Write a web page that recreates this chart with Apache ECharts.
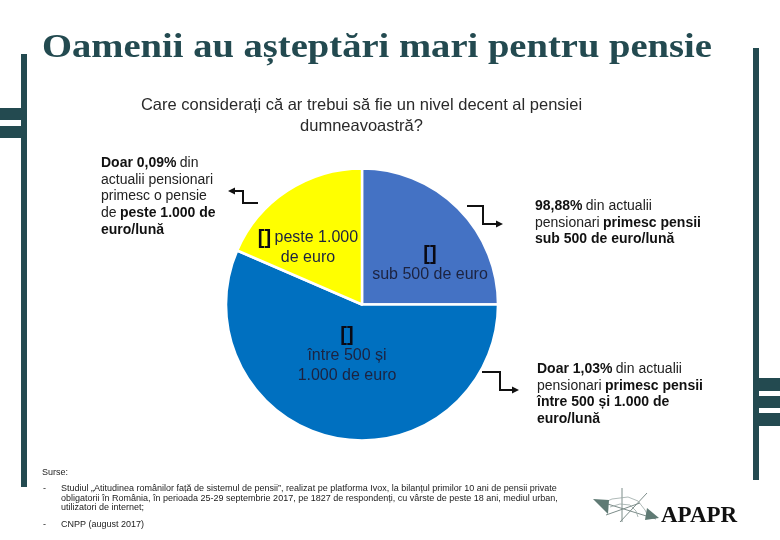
<!DOCTYPE html>
<html><head><meta charset="utf-8">
<style>html,body{margin:0;padding:0;background:#fff}#c{width:780px;height:540px}</style>
<script src="https://cdn.jsdelivr.net/npm/echarts@6/dist/echarts.min.js"></script>
</head><body><div id="c"></div>
<script>
const categories = ['sub 500 de euro', 'între 500 și\n1.000 de euro', 'peste 1.000\nde euro'];
const shares = [25, 56.5, 18.5];
const colors = ['#4472C4', '#0070C0', '#FFFF00'];
const titleText = 'Oamenii au așteptări mari pentru pensie';
const subtitleLines = ['Care considerați că ar trebui să fie un nivel decent al pensiei', 'dumneavoastră?'];
const sans = '"Liberation Sans", Arial, sans-serif';
const dark = '#234A50';

const chart = echarts.init(document.getElementById('c'), null, {renderer: 'canvas'});
const g = [];
const rect = (x, y, w, h, fill) => g.push({type: 'rect', shape: {x, y, width: w, height: h}, style: {fill}});
const text = (x, y, t, o = {}, extra = {}) => g.push(Object.assign({type: 'text', x, y, style: Object.assign({text: t, fill: '#111', font: '13px ' + sans, textVerticalAlign: 'middle'}, o)}, extra));

// frame decoration
rect(21, 54, 6, 433, dark); rect(0, 108, 27, 12, dark); rect(0, 126, 27, 12, dark);
rect(753, 48, 6, 432, dark); rect(753, 378, 27, 13, dark); rect(753, 396, 27, 12, dark); rect(753, 413, 27, 13, dark);

text(42, 48, titleText, {fill: dark, font: 'bold 34px "Liberation Serif", serif'}, {scaleX: 1.135});
text(361.5, 105.5, subtitleLines[0], {textAlign: 'center', font: '16.5px ' + sans, fill: '#2a2a2a'});
text(361.5, 126, subtitleLines[1], {textAlign: 'center', font: '16.5px ' + sans, fill: '#2a2a2a'});

// rich callouts
const callout = (x, y, lines) => lines.forEach((l, i) => g.push({type: 'text', x, y: y + i * 16.8, style: {
  text: l, fill: '#111', textVerticalAlign: 'middle',
  rich: {b: {font: 'bold 14px ' + sans, fill: '#111'}, n: {font: '14px ' + sans, fill: '#222'}}
}}));
callout(101, 163, ['{b|Doar 0,09%} {n|din}', '{n|actualii pensionari}', '{n|primesc o pensie}', '{n|de} {b|peste 1.000 de}', '{b|euro/lună}']);
callout(535, 206, ['{b|98,88%} {n|din actualii}', '{n|pensionari} {b|primesc pensii}', '{b|sub 500 de euro/lună}']);
callout(537, 369, ['{b|Doar 1,03%} {n|din actualii}', '{n|pensionari} {b|primesc pensii}', '{b|între 500 și 1.000 de}', '{b|euro/lună}']);

// elbow arrows
const arrow = (pts, tip) => {
  g.push({type: 'polyline', shape: {points: pts}, style: {stroke: '#111', lineWidth: 2, fill: null}});
  g.push({type: 'polygon', shape: {points: tip}, style: {fill: '#111'}});
};
arrow([[258, 203], [243, 203], [243, 191], [232, 191]], [[228, 191], [235, 187.5], [235, 194.5]]);
arrow([[467, 206], [483, 206], [483, 224], [499, 224]], [[503, 224], [496, 220.5], [496, 227.5]]);
arrow([[482, 372], [500, 372], [500, 390], [515, 390]], [[519, 390], [512, 386.5], [512, 393.5]]);

// sources
const src = {fill: '#222', font: '9px ' + sans, textVerticalAlign: 'middle'};
text(42, 473, 'Surse:', src);
text(43, 489, '-', src);
text(61, 489, 'Studiul „Atitudinea românilor față de sistemul de pensii”, realizat pe platforma Ivox, la bilanțul primilor 10 ani de pensii private', src);
text(61, 498.5, 'obligatorii în România, în perioada 25-29 septembrie 2017, pe 1827 de respondenți, cu vârste de peste 18 ani, mediul urban,', src);
text(61, 508, 'utilizatori de internet;', src);
text(43, 525, '-', src);
text(61, 525, 'CNPP (august 2017)', src);

// logo
const gl = (a, b, c = '#7d8d8a') => g.push({type: 'line', shape: {x1: a[0], y1: a[1], x2: b[0], y2: b[1]}, style: {stroke: c, lineWidth: 1}});
[[[598, 501], [656, 519]], [[622, 488], [622, 522]], [[647, 493], [620, 522]], [[606, 515], [640, 503]]].forEach(s => gl(s[0], s[1]));
g.push({type: 'polyline', shape: {points: [[603, 503], [612, 499], [628, 497], [638, 501], [645, 510], [648, 516]]}, style: {stroke: '#9aa8a6', lineWidth: 0.8, fill: null}});
g.push({type: 'polyline', shape: {points: [[610, 507], [620, 504], [630, 505], [636, 511], [638, 517]]}, style: {stroke: '#9aa8a6', lineWidth: 0.8, fill: null}});
g.push({type: 'polygon', shape: {points: [[593, 499], [609, 500], [608, 514]]}, style: {fill: '#5f7a74'}});
g.push({type: 'polygon', shape: {points: [[659, 518], [647, 508], [645, 520]]}, style: {fill: '#5f7a74'}});
text(661, 516, 'APAPR', {fill: '#111', font: 'bold 23px "Liberation Serif", serif'});

const labelPos = [[430, 264.5], [347, 355.5], [308, 248]];
chart.setOption({
  animation: false,
  series: [{
    type: 'pie', center: [362, 304.5], radius: [0, 136], startAngle: 90, clockwise: true,
    itemStyle: {borderColor: '#fff', borderWidth: 2.5},
    label: {
      show: true, position: 'inside', align: 'center', lineHeight: 20,
      rich: {
        br: {fontFamily: 'Liberation Sans', fontWeight: 'bold', fontSize: 20, color: '#0a0a14', lineHeight: 20},
        t: {fontFamily: 'Liberation Sans', fontSize: 16, color: '#1c2340', lineHeight: 20}
      }
    },
    labelLine: {show: false},
    labelLayout: p => { const q = labelPos[p.dataIndex]; return {x: q[0], y: q[1], align: 'center', verticalAlign: 'middle'}; },
    data: categories.map((c, i) => ({
      name: c, value: shares[i], itemStyle: {color: colors[i]},
      label: {formatter: i === 2
        ? '{br|[]} {t|peste 1.000}\n{t|de euro}'
        : '{br|[]}\n' + c.split('\n').map(s => '{t|' + s + '}').join('\n')}
    }))
  }],
  graphic: {elements: g}
});
</script></body></html>
